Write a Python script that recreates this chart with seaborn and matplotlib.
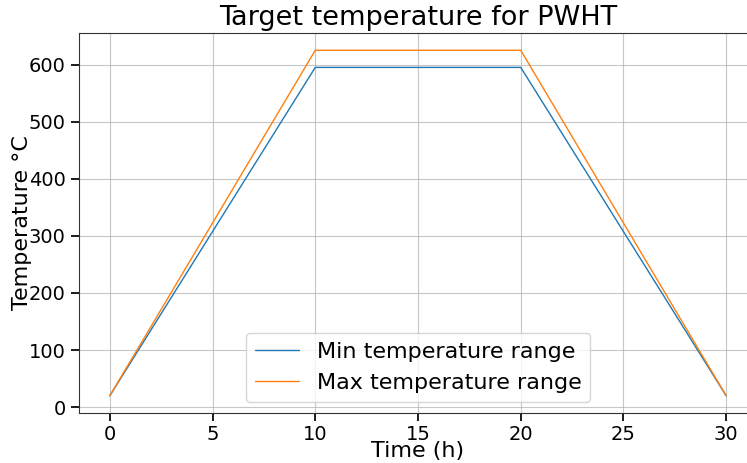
import matplotlib
matplotlib.use('Agg')
import pandas as pd
import matplotlib.pyplot as plt
import seaborn as sns

# PWHT heating / holding / cooling profile.
time_h = [0, 10, 20, 30]
min_temp = [20, 595, 595, 20]
max_temp = [20, 625, 625, 20]

df = pd.DataFrame({'time': time_h * 2,
                   'temp': min_temp + max_temp,
                   'range': ['Min temperature range'] * 4 + ['Max temperature range'] * 4})

sns.set_theme(style='ticks', rc={'text.color': 'black',
                                 'axes.labelcolor': 'black',
                                 'xtick.color': 'black',
                                 'ytick.color': 'black',
                                 'axes.edgecolor': '#333333',
                                 'axes.linewidth': 0.8})
plt.rcParams['font.family'] = ['DejaVu Sans']

fig = plt.figure(figsize=(7.47, 4.63), dpi=100)
# axes runs past the right edge, like the cropped original
ax = fig.add_axes([79/747, 1 - 413/463, (757 - 79)/747, (413 - 33)/463])
sns.lineplot(x='time', y='temp', hue='range', data=df, ax=ax,
             palette=['#1f77b4', '#ff7f0e'], linewidth=1)
ax.grid(True, color='#b0b0b0', linewidth=0.8, alpha=0.7)
ax.set_title('Target temperature for PWHT', fontsize=19.5)
ax.set_xlabel('Time (h)', fontsize=16)
ax.set_ylabel('Temperature °C', fontsize=16)
ax.xaxis.set_label_coords(0.5, -0.073)
ax.yaxis.set_label_coords(-0.069, 0.5)
ax.tick_params(labelsize=14)
ax.tick_params(axis='x', pad=2.5)
ax.legend(fontsize=16, loc='lower center')
fig.savefig('out.png')
